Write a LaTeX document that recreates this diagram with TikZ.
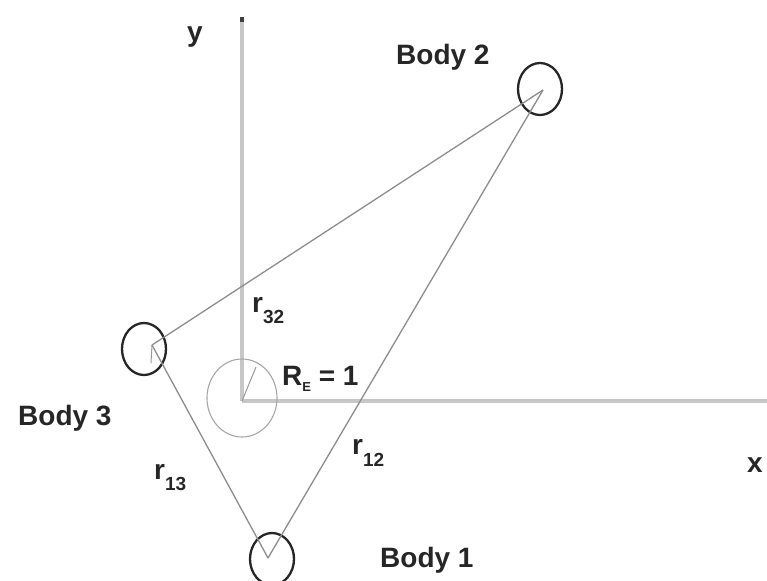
\documentclass[tikz,border=0pt]{standalone}
\usepackage{fontspec}
\setmainfont{Liberation Sans}
\usetikzlibrary{shapes.geometric}
\newcommand{\mainsz}{\fontsize{28}{30}\selectfont\bfseries}
\newcommand{\subsz}{\fontsize{19}{20}\selectfont\bfseries}
\newcommand{\tinysz}{\fontsize{13}{14}\selectfont\bfseries}
\begin{document}
\begin{tikzpicture}[x=1pt,y=-1pt,
  axis/.style={draw=black!22,line width=3.5pt},
  conn/.style={draw=black!45,line width=1.3pt},
  bodyc/.style={ellipse,draw=black!85,line width=2.3pt,minimum width=44pt,minimum height=52pt,inner sep=0pt},
  earthc/.style={ellipse,draw=black!35,line width=1.1pt,minimum width=70pt,minimum height=78pt,inner sep=0pt},
  lab/.style={inner sep=0pt,anchor=base west,text=black!85,font=\mainsz}]
\useasboundingbox (0,0) rectangle (767,580);
% axes
\coordinate (O) at (242,401);
\coordinate (ytop) at (242,17);
\coordinate (xend) at (767,401);
\draw[axis] (O) -- (ytop);
\draw[axis] (O) -- (xend);
\draw[draw=black!75,line width=3.5pt] (ytop) -- ++(0,5);
% earth
\node[earthc] (E) at (242,398) {};
\coordinate (Etip) at (256,367);
\draw[draw=black!40,line width=1pt] (O) -- (Etip);
% bodies
\node[bodyc] (b1) at (272,559) {};
\node[bodyc] (b2) at (540,89) {};
\node[bodyc] (b3) at (144,349) {};
\coordinate (c1) at (268,558);
\coordinate (c2) at (543,90);
\coordinate (c3) at (152,345);
\draw[conn] (c3) -- (c2);
\draw[conn] (c2) -- (c1);
\draw[conn] (c3) -- (c1);
\coordinate (c3b) at (151,363);
\draw[draw=black!40,line width=1pt] (c3) -- (c3b);
% labels
\node[lab] (ly) at (187,42) {y};
\node[lab] (lx) at (747,472) {x};
\node[lab] (lb2) at (396,65) {Body 2};
\node[lab] (lb3) at (18,425) {Body 3};
\node[lab] (lb1) at (380,567) {Body 1};
\node[lab] (r32) at (252,312) {r\raisebox{-11pt}{\subsz 32}};
\node[lab] (r13) at (154,479) {r\raisebox{-11pt}{\subsz 13}};
\node[lab] (r12) at (352,454) {r\raisebox{-12pt}{\subsz 12}};
\node[lab] (RE) at (282,385) {R\raisebox{-6pt}{\tinysz E} = 1};
\end{tikzpicture}
\end{document}
